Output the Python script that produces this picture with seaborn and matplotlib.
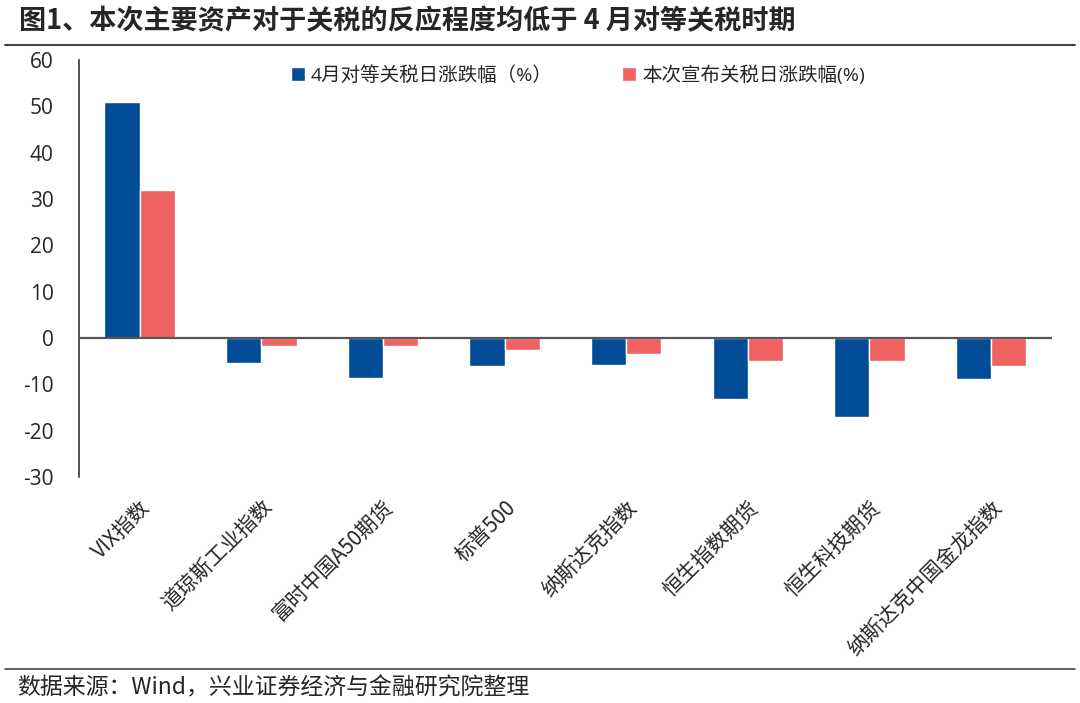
import matplotlib
matplotlib.use("Agg")
from matplotlib import pyplot as plt
from matplotlib.lines import Line2D
import seaborn as sns
import pandas as pd

categories = ['VIX指数', '道琼斯工业指数', '富时中国A50期货', '标普500', '纳斯达克指数',
              '恒生指数期货', '恒生科技期货', '纳斯达克中国金龙指数']
april_vals = [51.0, -5.5, -8.7, -6.0, -5.8, -13.2, -17.1, -8.9]
now_vals = [32.0, -1.8, -1.8, -2.7, -3.5, -5.0, -5.0, -6.1]
series_names = ['4月对等关税日涨跌幅（%）', '本次宣布关税日涨跌幅(%)']
y_ticks = [60, 50, 40, 30, 20, 10, 0, -10, -20, -30]

df = pd.DataFrame({
    'cat': categories * 2,
    'val': april_vals + now_vals,
    'series': [series_names[0]] * len(categories) + [series_names[1]] * len(categories),
})

sns.set_theme(style="white")
plt.rcParams['font.family'] = ['Open Sans', 'Noto Sans CJK SC', 'DejaVu Sans']
plt.rcParams['axes.unicode_minus'] = False

fig = plt.figure(figsize=(10.8, 7.03), dpi=100)
ax = fig.add_axes([0.073, 0.3215, 0.901, 0.5933])

sns.barplot(data=df, x='cat', y='val', hue='series', order=categories,
            hue_order=series_names, palette=['#004C97', '#F06262'],
            width=0.58, saturation=1, ax=ax)

ax.set_xlim(-0.5, 7.5)
ax.set_ylim(-30, 60)
ax.set_yticks(y_ticks)
ax.set_yticklabels([str(t) for t in y_ticks], fontsize=15)
ax.axhline(0, color='#555555', lw=1.6, zorder=5)
ax.set_xlabel('')
ax.set_ylabel('')

for s in ['top', 'right', 'bottom']:
    ax.spines[s].set_visible(False)
ax.spines['left'].set_color('#333333')
ax.spines['left'].set_linewidth(1.2)
ax.tick_params(axis='y', direction='in', length=6, width=1.2, color='#333333', pad=18)
ax.tick_params(axis='x', length=0, pad=14)
plt.setp(ax.get_xticklabels(), rotation=45, ha='right', rotation_mode='anchor',
         fontsize=15, family=['Noto Sans CJK SC'])

ax.legend(loc='center', bbox_to_anchor=(0.535, 0.893), bbox_transform=fig.transFigure,
          ncol=2, frameon=False, fontsize=14, handlelength=0.7, handleheight=0.7,
          handletextpad=0.3, columnspacing=3.6)

fig.text(0.018, 0.970, '图1、本次主要资产对于关税的反应程度均低于 4 月对等关税时期',
         fontsize=19.5, fontweight='bold', va='center', ha='left',
         family=['Noto Sans CJK SC'])
fig.add_artist(Line2D([0.005, 0.995], [0.936, 0.936], color='#444444', lw=1.5))
fig.add_artist(Line2D([0.005, 0.995], [0.048, 0.048], color='#444444', lw=1.2))
fig.text(0.016, 0.021, '数据来源：Wind，兴业证券经济与金融研究院整理',
         fontsize=16.5, va='center', ha='left', family=['Noto Sans CJK SC'])

fig.savefig('out.png', dpi=100)
